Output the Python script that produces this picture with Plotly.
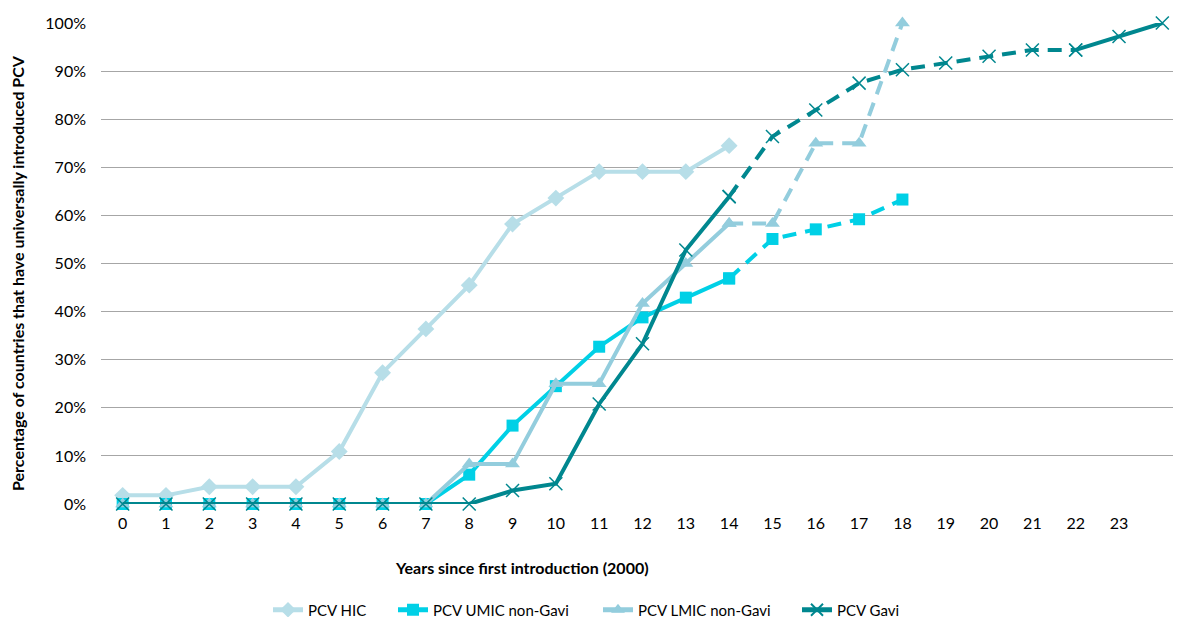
import plotly.graph_objects as go

years = list(range(0, 25))
tick_labels = [str(i) for i in range(0, 24)]

# values in % (index = years since first introduction)
hic = [1.8, 1.8, 3.6, 3.6, 3.6, 10.9, 27.3, 36.4, 45.5, 58.2, 63.6, 69.1, 69.1, 69.1, 74.5]
umic = [0, 0, 0, 0, 0, 0, 0, 0, 6.1, 16.3, 24.5, 32.7, 38.8, 42.9, 46.9, 55.1, 57.1, 59.2, 63.3]
lmic = [0, 0, 0, 0, 0, 0, 0, 0, 8.3, 8.3, 25.0, 25.0, 41.7, 50.0, 58.3, 58.3, 75.0, 75.0, 100.0]
gavi = [0, 0, 0, 0, 0, 0, 0, 0, 0, 2.8, 4.2, 20.8, 33.3, 52.8, 63.9, 76.4, 81.9, 87.5, 90.3,
        91.7, 93.1, 94.4, 94.4, 97.2, 100.0]

# index ranges: solid (observed) vs dashed (projected)
umic_solid_end = 14
lmic_solid_end = 14
gavi_solid_end = 14
gavi_solid2_start = 22

C_HIC = "#B7DEE8"
C_UMIC = "#00D0E6"
C_LMIC = "#93CDDD"
C_GAVI = "#00878F"

DASH = "14px,9px"

font = "Lato, 'Open Sans', sans-serif"

fig = go.Figure()


def seg(vals, a, b, color, symbol, size, dash, name, show, legend, mline=None):
    xs = years[a:b + 1]
    ys = [v / 100 for v in vals[a:b + 1]]
    marker = dict(symbol=symbol, size=size, color=color)
    if mline:
        marker["line"] = mline
    fig.add_trace(go.Scatter(
        x=xs, y=ys, mode="lines+markers", name=name, showlegend=show,
        legendgroup=name, legend=legend,
        line=dict(color=color, width=4, dash=dash),
        marker=marker, cliponaxis=False,
    ))


seg(hic, 0, len(hic) - 1, C_HIC, "diamond", 13, "solid", "PCV HIC", True, "legend")
seg(umic, 0, umic_solid_end, C_UMIC, "square", 12, "solid", "PCV UMIC non-Gavi", True, "legend2")
seg(umic, umic_solid_end, len(umic) - 1, C_UMIC, "square", 12, DASH, "PCV UMIC non-Gavi", False, "legend2")
seg(lmic, 0, lmic_solid_end, C_LMIC, "triangle-up", 13, "solid", "PCV LMIC non-Gavi", True, "legend3")
seg(lmic, lmic_solid_end, len(lmic) - 1, C_LMIC, "triangle-up", 13, DASH, "PCV LMIC non-Gavi", False, "legend3")
xm = dict(color=C_GAVI, width=1.5)
seg(gavi, 0, gavi_solid_end, C_GAVI, "x-thin", 13, "solid", "PCV Gavi", True, "legend4", xm)
seg(gavi, gavi_solid_end, gavi_solid2_start, C_GAVI, "x-thin", 13, DASH, "PCV Gavi", False, "legend4", xm)
seg(gavi, gavi_solid2_start, len(gavi) - 1, C_GAVI, "x-thin", 13, "solid", "PCV Gavi", False, "legend4", xm)


def leg(screen_x):
    return dict(orientation="h", xref="container", yref="container",
                x=(screen_x - 8) / 1181, xanchor="left", y=1 - 602 / 617, yanchor="middle",
                font=dict(size=15), itemsizing="constant", bgcolor="rgba(0,0,0,0)")


# page body has an 8px margin: positions below are screen positions minus 8
fig.update_layout(
    width=1181, height=617,
    margin=dict(l=93, r=5, t=15, b=121),
    plot_bgcolor="white", paper_bgcolor="white",
    font=dict(family=font, size=15, color="#000000"),
    showlegend=True,
    legend=leg(268), legend2=leg(393), legend3=leg(598), legend4=leg(797),
    xaxis=dict(range=[-0.5, 24.5], tickvals=years[:24], ticktext=tick_labels,
               showgrid=False, zeroline=False, showline=False, ticks="",
               tickfont=dict(size=16), ticklabelstandoff=8),
    yaxis=dict(range=[0, 1], dtick=0.1, tickformat=".0%", showgrid=True,
               gridcolor="#A6A6A6", gridwidth=1, zeroline=False, showline=False,
               ticks="", tickfont=dict(size=16), ticklabelstandoff=14),
    annotations=[
        dict(text="<b>Years since first introduction (2000)</b>", xref="paper", yref="paper",
             x=(522 - 101) / 1083, y=(504 - 567) / 481, xanchor="center", yanchor="middle",
             showarrow=False, font=dict(size=16)),
        dict(text="<b>Percentage of countries that have universally introduced PCV</b>",
             xref="paper", yref="paper", x=(17 - 101) / 1083, y=(504 - 273) / 481,
             xanchor="center", yanchor="middle", textangle=-90, showarrow=False,
             font=dict(size=16)),
    ],
)

fig.write_html("out.html")
